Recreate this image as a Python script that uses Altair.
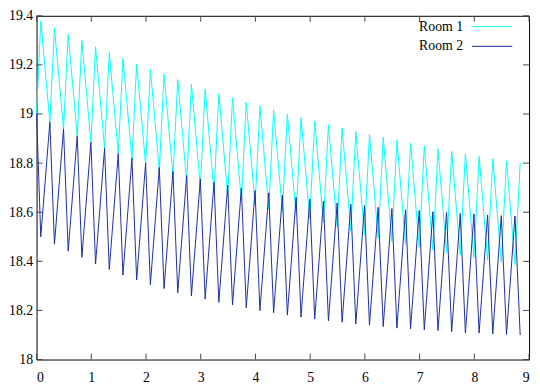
import altair as alt
import pandas as pd

# ---- data ----
series_names = ["Room 1", "Room 2"]
series_colors = ["#00ffff", "#1a2ea0"]

start_time = [0.0]
start_values = [19.0, 19.0]

peak_times = [0.077, 0.327, 0.578, 0.828, 1.078, 1.329, 1.579, 1.829, 2.080, 2.330,
              2.580, 2.830, 3.081, 3.331, 3.581, 3.832, 4.082, 4.332, 4.583, 4.833,
              5.083, 5.334, 5.584, 5.834, 6.084, 6.335, 6.585, 6.835, 7.086, 7.336,
              7.586, 7.837, 8.087, 8.337, 8.588, 8.838]
trough_times = [0.243, 0.493, 0.743, 0.993, 1.243, 1.493, 1.743, 1.993, 2.243, 2.493,
                2.743, 2.993, 3.243, 3.493, 3.743, 3.993, 4.243, 4.493, 4.743, 4.993,
                5.243, 5.493, 5.743, 5.993, 6.243, 6.493, 6.743, 6.993, 7.243, 7.493,
                7.743, 7.993, 8.243, 8.493, 8.743]

room1_high = [19.378, 19.351, 19.324, 19.299, 19.274, 19.250, 19.226, 19.204, 19.183, 19.162,
              19.140, 19.121, 19.102, 19.084, 19.066, 19.049, 19.032, 19.016, 19.000, 18.985,
              18.971, 18.956, 18.943, 18.929, 18.917, 18.905, 18.894, 18.881, 18.870, 18.858,
              18.848, 18.837, 18.827, 18.818, 18.809, 18.800]
room1_low = [18.967, 18.939, 18.911, 18.885, 18.860, 18.839, 18.815, 18.795, 18.770, 18.748,
             18.725, 18.703, 18.683, 18.664, 18.646, 18.629, 18.613, 18.603, 18.589, 18.572,
             18.556, 18.540, 18.523, 18.508, 18.494, 18.481, 18.469, 18.457, 18.446, 18.435,
             18.425, 18.416, 18.405, 18.396, 18.387]

room2_low = [18.500, 18.470, 18.442, 18.416, 18.389, 18.367, 18.344, 18.324, 18.305, 18.289,
             18.272, 18.259, 18.246, 18.233, 18.222, 18.211, 18.199, 18.191, 18.181, 18.173,
             18.165, 18.157, 18.152, 18.145, 18.140, 18.134, 18.128, 18.125, 18.121, 18.118,
             18.113, 18.108, 18.108, 18.105, 18.102, 18.100]
room2_high = [18.967, 18.939, 18.911, 18.885, 18.860, 18.839, 18.820, 18.800, 18.782, 18.766,
              18.749, 18.735, 18.722, 18.710, 18.699, 18.688, 18.679, 18.670, 18.661, 18.653,
              18.645, 18.638, 18.632, 18.627, 18.620, 18.615, 18.610, 18.607, 18.602, 18.599,
              18.595, 18.593, 18.589, 18.586, 18.585]

x_ticks = [0, 1, 2, 3, 4, 5, 6, 7, 8, 9]
y_ticks = [18.0, 18.2, 18.4, 18.6, 18.8, 19.0, 19.2, 19.4]

# ---- assemble long tables ----
def build(name, start, at_peak, at_trough):
    t = list(start_time)
    v = [start]
    for i in range(len(peak_times)):
        t.append(peak_times[i]); v.append(at_peak[i])
        if i < len(trough_times):
            t.append(trough_times[i]); v.append(at_trough[i])
    return pd.DataFrame({"t": t, "temp": v, "series": name})

df1 = build(series_names[0], start_values[0], room1_high, room1_low)
df2 = build(series_names[1], start_values[1], room2_low, room2_high)

W, H = 500, 349
FONT = "'Liberation Serif', 'Times New Roman', serif"
FS = 14

xs = alt.Scale(domain=[0, 9], nice=False, zero=False)
ys = alt.Scale(domain=[18, 19.4], nice=False, zero=False)

x_axis = alt.Axis(values=x_ticks, format="d", ticks=False, domain=False, grid=False,
                  labelFont=FONT, labelFontSize=FS, labelColor="black", labelPadding=11,
                  title=None)
y_axis = alt.Axis(values=y_ticks, format=".3~g", ticks=False, domain=False, grid=False,
                  labelFont=FONT, labelFontSize=FS, labelColor="black", labelPadding=4,
                  title=None)

line1 = alt.Chart(df1).mark_line(strokeWidth=1, color=series_colors[0]).encode(
    x=alt.X("t:Q", scale=xs, axis=x_axis),
    y=alt.Y("temp:Q", scale=ys, axis=y_axis),
    order="t:Q",
)
line2 = alt.Chart(df2).mark_line(strokeWidth=1, color=series_colors[1]).encode(
    x=alt.X("t:Q", scale=xs),
    y=alt.Y("temp:Q", scale=ys),
    order="t:Q",
)

xt = pd.DataFrame({"v": x_ticks})
yt = pd.DataFrame({"v": y_ticks})
TL = 6
TC = "#444444"
tick_layers = [
    alt.Chart(xt).mark_rule(color=TC, strokeWidth=1).encode(
        x=alt.X("v:Q", scale=xs), y=alt.value(H), y2=alt.value(H - TL)),
    alt.Chart(xt).mark_rule(color=TC, strokeWidth=1).encode(
        x=alt.X("v:Q", scale=xs), y=alt.value(0), y2=alt.value(TL)),
    alt.Chart(yt).mark_rule(color=TC, strokeWidth=1).encode(
        y=alt.Y("v:Q", scale=ys), x=alt.value(0), x2=alt.value(TL)),
    alt.Chart(yt).mark_rule(color=TC, strokeWidth=1).encode(
        y=alt.Y("v:Q", scale=ys), x=alt.value(W), x2=alt.value(W - TL)),
]

legend_layers = []
for i, (name, col) in enumerate(zip(series_names, series_colors)):
    ld = pd.DataFrame({"label": [name]})
    ypix = 11 + 20 * i
    legend_layers.append(
        alt.Chart(ld).mark_text(align="right", baseline="middle", font=FONT,
                                fontSize=FS, color="black").encode(
            text="label:N", x=alt.value(433), y=alt.value(ypix)))
    legend_layers.append(
        alt.Chart(ld).mark_rule(color=col, strokeWidth=1).encode(
            x=alt.value(442), x2=alt.value(483), y=alt.value(ypix)))

chart = alt.layer(line1, line2, *tick_layers, *legend_layers).properties(
    width=W, height=H,
    autosize=alt.AutoSizeParams(type="none"),
    padding={"left": 29, "top": 5, "right": 3, "bottom": 28},
).configure_view(stroke="black", strokeWidth=1).configure_axis(grid=False)

chart.save("out.html", embed_options={"renderer": "svg", "actions": False})
